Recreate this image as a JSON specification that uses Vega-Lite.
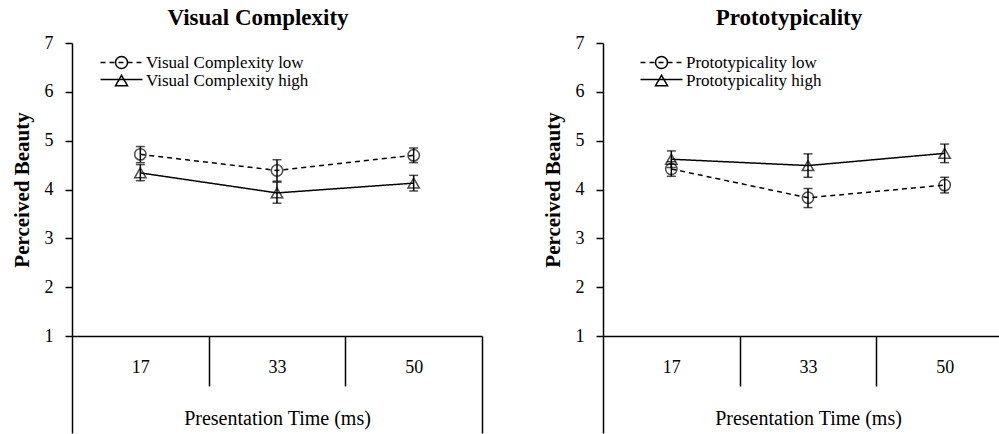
{
  "$schema": "https://vega.github.io/schema/vega-lite/v6.json",
  "background": "white",
  "padding": {"left": 11, "top": 7, "right": 0, "bottom": 0},
  "spacing": 59,
  "datasets": {
    "d": [
      {"panel": "VC", "level": "low", "series": "Visual Complexity low", "time": 17, "mean": 4.72, "lo": 4.55, "hi": 4.88},
      {"panel": "VC", "level": "low", "series": "Visual Complexity low", "time": 33, "mean": 4.39, "lo": 4.17, "hi": 4.61},
      {"panel": "VC", "level": "low", "series": "Visual Complexity low", "time": 50, "mean": 4.70, "lo": 4.55, "hi": 4.85},
      {"panel": "VC", "level": "high", "series": "Visual Complexity high", "time": 17, "mean": 4.34, "lo": 4.18, "hi": 4.51},
      {"panel": "VC", "level": "high", "series": "Visual Complexity high", "time": 33, "mean": 3.93, "lo": 3.72, "hi": 4.15},
      {"panel": "VC", "level": "high", "series": "Visual Complexity high", "time": 50, "mean": 4.13, "lo": 3.97, "hi": 4.29},
      {"panel": "P", "level": "low", "series": "Prototypicality low", "time": 17, "mean": 4.42, "lo": 4.27, "hi": 4.57},
      {"panel": "P", "level": "low", "series": "Prototypicality low", "time": 33, "mean": 3.83, "lo": 3.63, "hi": 4.02},
      {"panel": "P", "level": "low", "series": "Prototypicality low", "time": 50, "mean": 4.09, "lo": 3.93, "hi": 4.25},
      {"panel": "P", "level": "high", "series": "Prototypicality high", "time": 17, "mean": 4.62, "lo": 4.45, "hi": 4.79},
      {"panel": "P", "level": "high", "series": "Prototypicality high", "time": 33, "mean": 4.49, "lo": 4.25, "hi": 4.73},
      {"panel": "P", "level": "high", "series": "Prototypicality high", "time": 50, "mean": 4.74, "lo": 4.55, "hi": 4.93}
    ]
  },
  "hconcat": [
    {
      "width": 410,
      "height": 293,
      "data": {"name": "d"},
      "transform": [{"filter": "datum.panel == 'VC'"}],
      "title": {"text": "Visual Complexity", "dx": -19, "fontSize": 23, "font": "Liberation Serif", "fontWeight": "bold", "color": "black", "offset": 4},
      "encoding": {
        "x": {
          "field": "time", "type": "ordinal",
          "scale": {"domain": [17, 33, 50], "paddingInner": 0, "paddingOuter": 0},
          "axis": {
            "title": "Presentation Time (ms)", "labelAngle": 0, "tickBand": "extent",
            "tickSize": {"condition": {"test": "datum.value == 17 || datum.value == 33", "value": 50}, "value": 97},
            "labelPadding": {"condition": {"test": "datum.value == 50", "value": -66}, "value": -19},
            "labelBaseline": "middle", "labelFontSize": 18, "labelColor": "black",
            "tickColor": "black", "tickWidth": 1.5, "domainColor": "black", "domainWidth": 1.5,
            "titleFontSize": 20, "titleFontWeight": "normal", "titleColor": "black", "titleY": 82, "titleBaseline": "middle",
            "grid": false
          }
        }
      },
      "layer": [
        {
          "mark": {"type": "errorbar", "ticks": {"size": 9, "thickness": 1.5, "color": "black"}, "rule": {"strokeWidth": 1.5, "color": "black"}},
          "encoding": {
            "y": {"field": "lo", "type": "quantitative", "scale": {"domain": [1, 7], "nice": false, "zero": false}, "title": "Perceived Beauty"},
            "y2": {"field": "hi"},
            "detail": {"field": "series"}
          }
        },
        {
          "mark": {"type": "line", "color": "black", "strokeWidth": 1.5},
          "encoding": {
            "y": {"field": "mean", "type": "quantitative", "title": "Perceived Beauty"},
            "strokeDash": {
              "field": "level", "type": "nominal",
              "scale": {"domain": ["low", "high"], "range": [[5, 4], [1, 0]]},
              "legend": {
                "orient": "none", "legendX": 41, "legendY": 11, "title": null, "padding": 0, "rowPadding": -1,
                "symbolType": "M-3.5,0H3.5", "symbolSize": 144, "symbolStrokeWidth": 1.5, "symbolStrokeColor": "black",
                "labelExpr": "''", "labelOffset": 16, "labelFontSize": 17, "labelFont": "Liberation Serif"
              }
            }
          }
        },
        {
          "mark": {"type": "point", "filled": false, "color": "black", "size": 130, "strokeWidth": 1.5},
          "encoding": {
            "y": {"field": "mean", "type": "quantitative", "title": "Perceived Beauty"},
            "shape": {
              "field": "series", "type": "nominal",
              "scale": {"domain": ["Visual Complexity low", "Visual Complexity high"], "range": ["circle", "triangle-up"]},
              "legend": {
                "orient": "none", "legendX": 41, "legendY": 11, "title": null, "padding": 0, "rowPadding": -1,
                "symbolSize": 144, "labelOffset": 16, "labelFontSize": 17, "labelFont": "Liberation Serif", "labelColor": "black", "labelLimit": 300,
                "symbolStrokeWidth": 1.5, "symbolStrokeColor": "black", "symbolFillColor": "white", "symbolOpacity": 1
              }
            }
          }
        }
      ]
    },
    {
      "width": 410,
      "height": 293,
      "data": {"name": "d"},
      "transform": [{"filter": "datum.panel == 'P'"}],
      "title": {"text": "Prototypicality", "dx": -19, "fontSize": 23, "font": "Liberation Serif", "fontWeight": "bold", "color": "black", "offset": 4},
      "encoding": {
        "x": {
          "field": "time", "type": "ordinal",
          "scale": {"domain": [17, 33, 50], "paddingInner": 0, "paddingOuter": 0},
          "axis": {
            "title": "Presentation Time (ms)", "labelAngle": 0, "tickBand": "extent",
            "tickSize": {"condition": {"test": "datum.value == 17 || datum.value == 33", "value": 50}, "value": 97},
            "labelPadding": {"condition": {"test": "datum.value == 50", "value": -66}, "value": -19},
            "labelBaseline": "middle", "labelFontSize": 18, "labelColor": "black",
            "tickColor": "black", "tickWidth": 1.5, "domainColor": "black", "domainWidth": 1.5,
            "titleFontSize": 20, "titleFontWeight": "normal", "titleColor": "black", "titleY": 82, "titleBaseline": "middle",
            "grid": false
          }
        }
      },
      "layer": [
        {
          "mark": {"type": "errorbar", "ticks": {"size": 9, "thickness": 1.5, "color": "black"}, "rule": {"strokeWidth": 1.5, "color": "black"}},
          "encoding": {
            "y": {"field": "lo", "type": "quantitative", "scale": {"domain": [1, 7], "nice": false, "zero": false}, "title": "Perceived Beauty"},
            "y2": {"field": "hi"},
            "detail": {"field": "series"}
          }
        },
        {
          "mark": {"type": "line", "color": "black", "strokeWidth": 1.5},
          "encoding": {
            "y": {"field": "mean", "type": "quantitative", "title": "Perceived Beauty"},
            "strokeDash": {
              "field": "level", "type": "nominal",
              "scale": {"domain": ["low", "high"], "range": [[5, 4], [1, 0]]},
              "legend": {
                "orient": "none", "legendX": 50, "legendY": 11, "title": null, "padding": 0, "rowPadding": -1,
                "symbolType": "M-3.5,0H3.5", "symbolSize": 144, "symbolStrokeWidth": 1.5, "symbolStrokeColor": "black",
                "labelExpr": "''", "labelOffset": 16, "labelFontSize": 17, "labelFont": "Liberation Serif"
              }
            }
          }
        },
        {
          "mark": {"type": "point", "filled": false, "color": "black", "size": 130, "strokeWidth": 1.5},
          "encoding": {
            "y": {"field": "mean", "type": "quantitative", "title": "Perceived Beauty"},
            "shape": {
              "field": "series", "type": "nominal",
              "scale": {"domain": ["Prototypicality low", "Prototypicality high"], "range": ["circle", "triangle-up"]},
              "legend": {
                "orient": "none", "legendX": 50, "legendY": 11, "title": null, "padding": 0, "rowPadding": -1,
                "symbolSize": 144, "labelOffset": 16, "labelFontSize": 17, "labelFont": "Liberation Serif", "labelColor": "black", "labelLimit": 300,
                "symbolStrokeWidth": 1.5, "symbolStrokeColor": "black", "symbolFillColor": "white", "symbolOpacity": 1
              }
            }
          }
        }
      ]
    }
  ],
  "resolve": {
    "scale": {"x": "independent", "y": "independent", "shape": "independent", "strokeDash": "independent"},
    "legend": {"shape": "independent", "strokeDash": "independent"}
  },
  "config": {
    "view": {"stroke": null},
    "font": "Liberation Serif",
    "axisY": {
      "values": [1, 2, 3, 4, 5, 6, 7], "tickSize": 7, "tickWidth": 1.5, "tickColor": "black",
      "domainColor": "black", "domainWidth": 1.5, "labelFontSize": 18, "labelPadding": 12, "labelColor": "black",
      "titleFontSize": 21, "titleFontWeight": "bold", "titleColor": "black", "titlePadding": 12, "grid": false
    }
  }
}
